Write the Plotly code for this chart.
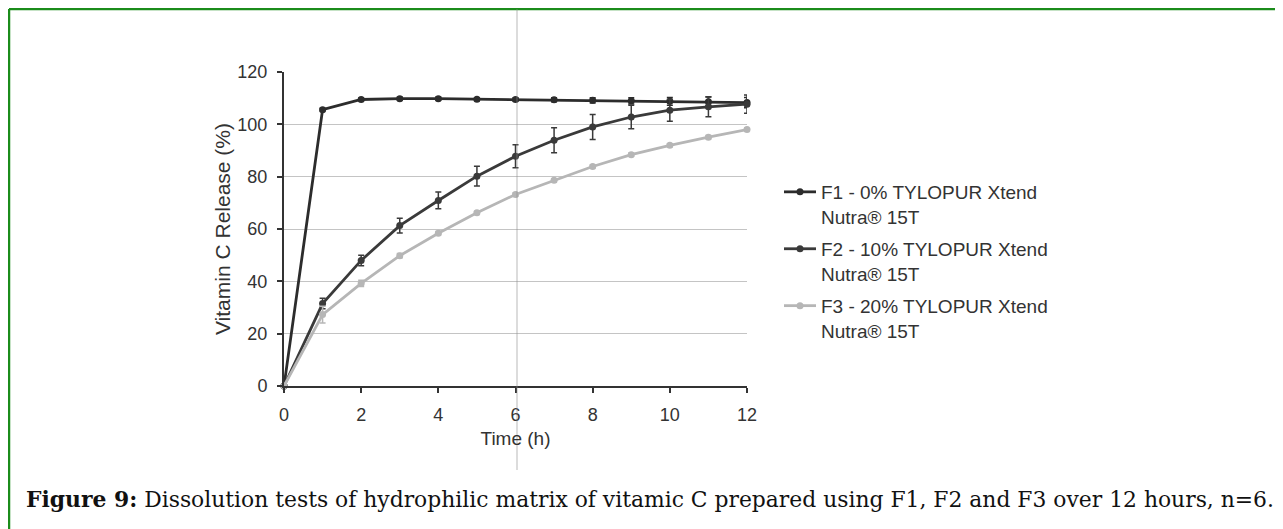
import plotly.graph_objects as go

time_h = [0, 1, 2, 3, 4, 5, 6, 7, 8, 9, 10, 11, 12]
f1_release = [0, 105.6, 109.5, 109.8, 109.8, 109.6, 109.5, 109.4, 109.2, 109.0, 108.8, 108.6, 108.3]
f1_err = [0, 0.5, 0.6, 0.6, 0.6, 0.6, 0.7, 0.8, 1.0, 1.2, 1.5, 1.8, 2.0]
f2_release = [0, 31.5, 48.0, 61.3, 70.9, 80.2, 87.8, 93.9, 99.0, 102.8, 105.4, 106.7, 107.7]
f2_err = [0, 2.0, 2.0, 2.8, 3.2, 3.8, 4.4, 4.8, 4.8, 4.5, 4.2, 3.8, 3.5]
f3_release = [0, 27.3, 39.2, 49.8, 58.4, 66.2, 73.2, 78.6, 83.9, 88.4, 92.0, 95.1, 98.0]
f3_err = [0, 3.2, 1.2, 0.8, 0.6, 0.6, 0.6, 0.6, 0.6, 0.6, 0.6, 0.6, 0.6]
series_names = ["F1 - 0% TYLOPUR Xtend<br>Nutra® 15T",
                "F2 - 10% TYLOPUR Xtend<br>Nutra® 15T",
                "F3 - 20% TYLOPUR Xtend<br>Nutra® 15T"]
y_ticks = [0, 20, 40, 60, 80, 100, 120]
x_ticks = [0, 2, 4, 6, 8, 10, 12]
caption_bold = "Figure 9:"
caption_text = " Dissolution tests of hydrophilic matrix of vitamic C prepared using F1, F2 and F3 over 12 hours, n=6."

W, H = 1283, 529
OFF = 8  # page body margin
L, R, T, B = 284 - OFF, 747 - OFF, 72 - OFF, 386 - OFF  # plot area in figure pixels


def px(xs):
    return (xs - OFF - L) / (R - L)


def py(ys):
    return (B - (ys - OFF)) / (B - T)


colors = ["#2c2c2c", "#3a3a3a", "#b6b6b6"]
series = [(f1_release, f1_err), (f2_release, f2_err), (f3_release, f3_err)]

fig = go.Figure()
for i, ((vals, errs), name, col) in enumerate(zip(series, series_names, colors)):
    fig.add_trace(go.Scatter(
        x=time_h, y=vals, name=name, mode="lines+markers",
        line=dict(color=col, width=2.8),
        marker=dict(color=col, size=7, symbol="circle"),
        error_y=dict(type="data", array=errs, visible=True, color=col, thickness=1.5, width=3),
        cliponaxis=False, legendgroup=f"g{i}",
    ))

green = "#1b8c1b"
shapes = [
    dict(type="line", xref="paper", yref="paper", x0=px(9), x1=px(1300), y0=py(9), y1=py(9),
         line=dict(color=green, width=2.5)),
    dict(type="line", xref="paper", yref="paper", x0=px(9), x1=px(9), y0=py(9), y1=py(545),
         line=dict(color=green, width=2.5)),
    # scan fold line
    dict(type="line", xref="paper", yref="paper", x0=px(517), x1=px(517), y0=py(9), y1=py(470),
         line=dict(color="rgba(140,140,140,0.5)", width=1.2)),
]

annotations = [
    dict(xref="paper", yref="paper", x=px(24), y=py(499), xanchor="left", yanchor="middle",
         showarrow=False, text=f"<b>{caption_bold}</b>{caption_text}",
         font=dict(family="DejaVu Serif", size=21.85, color="#111111")),
]

axis_font = dict(family="Liberation Sans, Arial", size=18, color="#333333")

fig.update_layout(
    width=W, height=H,
    margin=dict(l=L, r=W - R, t=T, b=H - B),
    paper_bgcolor="white", plot_bgcolor="white",
    font=dict(family="Liberation Sans, Arial", size=18, color="#333333"),
    showlegend=True,
    legend=dict(x=px(779), y=py(173), xanchor="left", yanchor="top",
                font=dict(family="Liberation Sans, Arial", size=19, color="#333333"),
                tracegroupgap=4.5, valign="top", bgcolor="rgba(0,0,0,0)",
                itemwidth=32),
    shapes=shapes,
    annotations=annotations,
    xaxis=dict(range=[0, 12], tickvals=x_ticks, showgrid=False, zeroline=False,
               showline=True, linecolor="#333333", linewidth=2,
               ticks="outside", ticklen=5, tickcolor="#333333", tickwidth=1.5,
               ticklabelstandoff=6,
               title=dict(text="Time (h)", font=dict(family="Liberation Sans, Arial", size=19, color="#333333"),
                          standoff=8),
               tickfont=axis_font),
    yaxis=dict(range=[0, 120], tickvals=y_ticks, showgrid=True, gridcolor="#c4c4c4", gridwidth=1.2,
               zeroline=False, showline=True, linecolor="#333333", linewidth=2,
               ticks="outside", ticklen=5, tickcolor="#333333", tickwidth=1.5,
               ticklabelstandoff=6,
               title=dict(text="Vitamin C Release (%)", font=dict(family="Liberation Sans, Arial", size=21, color="#333333"),
                          standoff=1),
               tickfont=axis_font),
)

fig.write_html("out.html")
